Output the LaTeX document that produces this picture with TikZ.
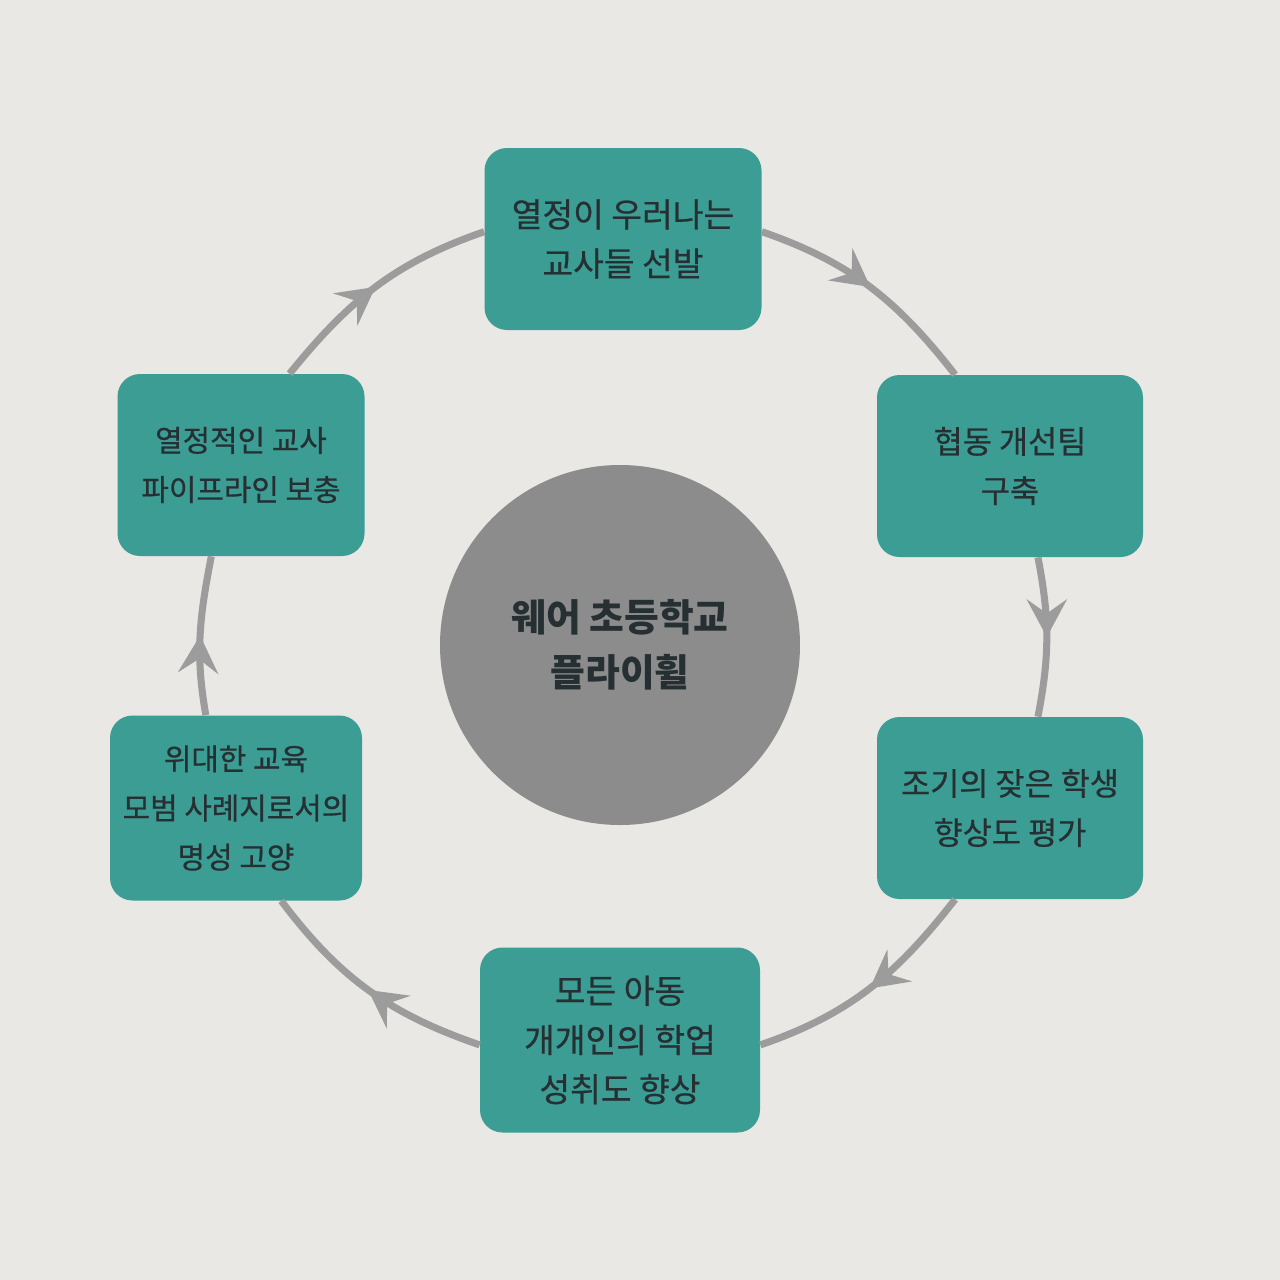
\documentclass[tikz,border=0pt]{standalone}
\usepackage{fontspec}
\setmainfont{Noto Sans CJK KR}
\newfontfamily\stagefont{Noto Sans CJK KR}[FakeBold=0.6]
\usepackage{xcolor}
\usepackage{tikz}
\usetikzlibrary{arrows.meta,positioning,calc,decorations.markings}
\definecolor{paper}{HTML}{E9E8E4}
\definecolor{teal}{HTML}{3C9D95}
\definecolor{hubgray}{HTML}{8C8C8C}
\definecolor{ringgray}{HTML}{9C9C9C}
\definecolor{ink}{HTML}{263033}

\begin{document}
\begin{tikzpicture}[
  x=1cm,y=1cm,
  flow/.style={draw=ringgray,line width=4pt,
    postaction={decorate},
    decoration={markings,mark=at position 0.5 with
      {\arrow{Stealth[length=0.75cm,width=0.8cm,inset=0.28cm,fill=ringgray]}}}},
  stage/.style={fill=teal,rounded corners=0.45cm,minimum height=3.64cm,
    inner xsep=2pt,align=center,text=ink,
    font=\stagefont\fontsize{#1}{28}\selectfont},
  stage/.default=19,
  hub/.style={circle,fill=hubgray,minimum size=7.2cm,align=center,
    text=ink,font=\fontsize{21.5}{31}\selectfont\bfseries}
]
  \fill[paper] (0,0) rectangle (25.6,-25.6);
  \useasboundingbox (0,0) rectangle (25.6,-25.6);

  \node[hub] (flywheel) at (12.4,-12.9)
    {웨어 초등학교\\플라이휠};

  \node[stage,minimum width=5.54cm] (select) at (12.46,-4.78)
    {열정이 우러나는\\교사들 선발};
  \node[stage=18,minimum width=5.32cm] (team) at (20.2,-9.32)
    {협동 개선팀\\구축};
  \node[stage=18,minimum width=5.32cm] (assess) at (20.2,-16.16)
    {조기의 잦은 학생\\향상도 평가};
  \node[stage,minimum width=5.6cm,minimum height=3.7cm] (achieve) at (12.4,-20.8)
    {모든 아동\\개개인의 학업\\성취도 향상};
  \node[stage=17,minimum width=5.04cm,minimum height=3.7cm] (renown) at (4.72,-16.16)
    {위대한 교육\\모범 사례지로서의\\명성 고양};
  \node[stage=17,minimum width=4.94cm] (pipeline) at (4.82,-9.3)
    {열정적인 교사\\파이프라인 보충};

  \draw[flow] (select.3) to[out=-19,in=128] (team.121);
  \draw[flow] (team.-73) to[out=-79,in=79] (assess.73);
  \draw[flow] (assess.-121) to[out=-128,in=19] (achieve.-2);
  \draw[flow] (achieve.182) to[out=161,in=-53] (renown.-64);
  \draw[flow] (renown.108) to[out=100,in=-101] (pipeline.-108);
  \draw[flow] (pipeline.62) to[out=51,in=-161] (select.177);
\end{tikzpicture}
\end{document}
